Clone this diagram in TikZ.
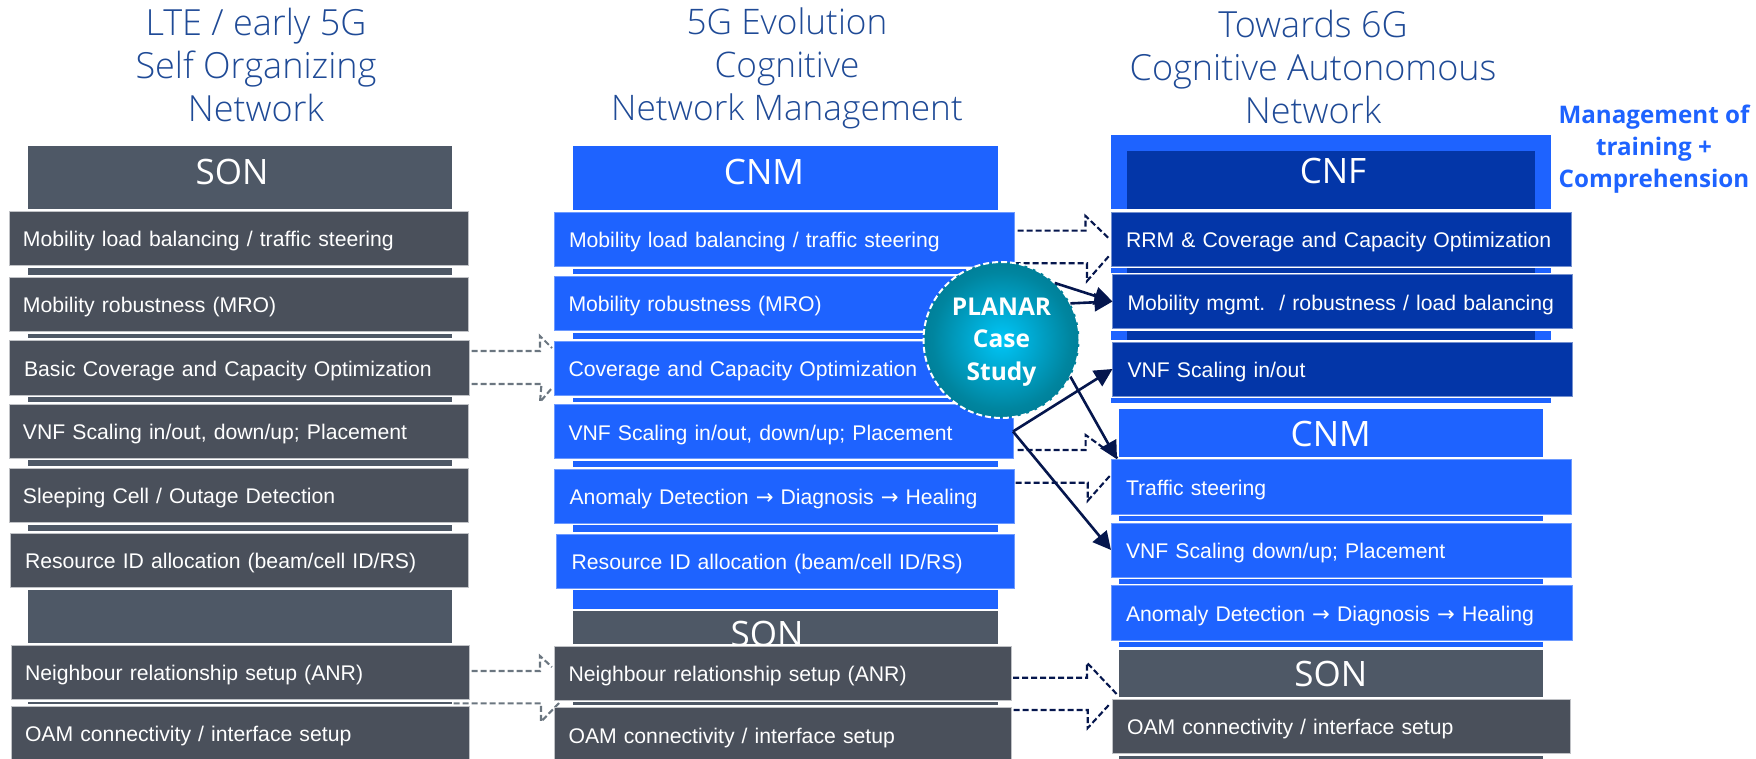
\documentclass[tikz,border=0pt]{standalone}
\usepackage{fontspec}
\setmainfont{Liberation Sans}
\newfontfamily\headfont{Open Sans}
\newfontfamily\lighthead{Open Sans Light}
\newfontfamily\arrowfont{DejaVu Sans}
\usetikzlibrary{arrows.meta}
\definecolor{nblue}{HTML}{1E63FF}
\definecolor{ndark}{HTML}{0336A8}
\definecolor{ngrayA}{HTML}{4E5866}
\definecolor{ngrayB}{HTML}{4A505B}
\definecolor{ntitle}{HTML}{1F4A96}
\definecolor{nnavy}{HTML}{05164D}
\definecolor{ndash}{HTML}{6B7680}
\definecolor{ballA}{HTML}{00C6F7}
\definecolor{ballB}{HTML}{00A8D0}
\definecolor{ballC}{HTML}{00859F}
\definecolor{ballD}{HTML}{006E86}
\definecolor{ballE}{HTML}{005D72}
\pgfdeclareradialshading{planarshade}{\pgfpoint{0bp}{0bp}}{color(0bp)=(ballA); color(10bp)=(ballB); color(22bp)=(ballC); color(35bp)=(ballD); color(50bp)=(ballE)}
\newcommand\rar{{\arrowfont →}}
\tikzset{
  itembase/.style={rectangle,outer sep=0pt,text=white,align=left,text height=21.2pt,text depth=4pt,
    font=\fontsize{21.2}{24}\selectfont},
  grayitem/.style={itembase,fill=ngrayB,draw=ngrayB!35!white,line width=.8pt},
  blueitem/.style={itembase,fill=nblue,draw=nblue!65!white,line width=.8pt},
  darkitem/.style={itembase,fill=ndark,draw=ndark!55!white,line width=.8pt},
  grayblock/.style={fill=ngrayA},
  blueblock/.style={fill=nblue},
  darkblock/.style={fill=ndark},
  headtext/.style={text=white,font=\headfont\fontsize{35}{40}\selectfont,inner sep=0pt},
  titletext/.style={text=ntitle,font=\lighthead\fontsize{36}{43}\selectfont,align=center,inner sep=0pt},
  graydash/.style={draw=ndash,line width=2.1pt,dash pattern=on 6pt off 3pt},
  navydash/.style={draw=nnavy,line width=2.1pt,dash pattern=on 6pt off 3pt},
  navyarrow/.style={draw=nnavy,line width=2.6pt,-{Triangle[length=18pt,width=18pt]}},
}
\newcommand\ibox[8]{%
  \pgfmathsetmacro\wid{#4-#2-2*#7}%
  \pgfmathsetmacro\hei{#5-#3}%
  \node[#6,anchor=north west,inner xsep=#7pt,inner ysep=0pt,text width=\wid pt,minimum height=\hei pt] (#1) at (#2,#3) {#8};}
\newcommand\bbox[6]{%
  \pgfmathsetmacro\wid{#4-#2}%
  \pgfmathsetmacro\hei{#5-#3}%
  \node[#6,anchor=north west,inner sep=0pt,outer sep=0pt,minimum width=\wid pt,minimum height=\hei pt] (#1) at (#2,#3) {};}
\begin{document}
\begin{tikzpicture}[x=1pt,y=-1pt]
\useasboundingbox (0,0) rectangle (1756,759);
\clip (0,0) rectangle (1756,759);
% titles
\node[titletext] (t1) at (256,65.5) {LTE / early 5G\\Self Organizing\\Network};
\node[titletext,font=\lighthead\fontsize{35.2}{43}\selectfont] (t2) at (787,68) {5G Evolution\\Cognitive\\Network Management};
\node[titletext] (t3) at (1313,67.5) {Towards 6G\\Cognitive Autonomous\\Network};
\node[text=nblue,font=\headfont\bfseries\fontsize{24.2}{32}\selectfont,align=center,inner sep=0pt] (mgmt) at (1654,149) {Management of\\training +\\Comprehension};
% column 1
\bbox{a0}{28}{146}{452}{209}{grayblock}
\node[headtext] (a0t) at (232,172) {SON};
\bbox{ab1}{28}{268}{452}{275}{grayblock}
\bbox{ab2}{28}{334}{452}{338}{grayblock}
\bbox{ab3}{28}{397}{452}{402}{grayblock}
\bbox{ab4}{28}{460}{452}{466}{grayblock}
\bbox{ab5}{28}{525}{452}{531}{grayblock}
\bbox{ab6}{28}{590}{452}{643}{grayblock}
\bbox{ab7}{28}{702}{452}{704}{grayblock}
\ibox{a1}{9}{211}{468}{265.6}{grayitem}{14}{Mobility load balancing / traffic steering}
\ibox{a2}{9}{277}{468}{331.7}{grayitem}{14}{Mobility robustness (MRO)}
\ibox{a3}{9.6}{340}{469}{395}{grayitem}{14.4}{Basic Coverage and Capacity Optimization}
\ibox{a4}{9}{404}{468}{458}{grayitem}{14}{VNF Scaling in/out, down/up; Placement}
\ibox{a5}{9}{468}{468}{522}{grayitem}{14}{Sleeping Cell / Outage Detection}
\ibox{a6}{10.3}{533}{468}{587}{grayitem}{14.7}{Resource ID allocation (beam/cell ID/RS)}
\ibox{a7}{11}{645}{469}{699}{grayitem}{14}{Neighbour relationship setup (ANR)}
\ibox{a8}{11}{706}{469}{775}{grayitem}{14}{\raisebox{8pt}{OAM connectivity / interface setup}}
% dashed block arrows col 1 to col 2
\draw[graydash] ([shift={(2.5,-16.5)}]a3.east) -- ++(68.5,0) -- ++(0,-15) -- ++(12,12);
\draw[graydash] ([shift={(2.5,16.5)}]a3.east) -- ++(70,0) -- ++(-1.5,18) -- ++(12,-14);
\draw[graydash] ([shift={(2.5,-1)}]a7.east) -- ++(68.5,0) -- ++(0,-15) -- ++(12,11);
\draw[graydash] ([shift={(-15.5,31.3)}]a7.east) -- ++(87.5,0) -- ++(0,18.4) -- ++(18,-18.7);
% column 2
\bbox{b0}{573}{146}{998}{210}{blueblock}
\node[headtext] (b0t) at (764,172) {CNM};
\bbox{bb1}{573}{268.7}{998}{274}{blueblock}
\bbox{bb2}{573}{333}{998}{338.7}{blueblock}
\bbox{bb3}{573}{397.7}{998}{402}{blueblock}
\bbox{bb4}{573}{461}{998}{466.7}{blueblock}
\bbox{bb5}{573}{525}{998}{531.7}{blueblock}
\bbox{bb6}{573}{590}{998}{609}{blueblock}
\bbox{bb7}{573}{611}{998}{643.7}{grayblock}
\node[headtext] (b7t) at (767,633.5) {SON};
\bbox{bb8}{573}{702}{998}{705}{grayblock}
\ibox{b1}{554.6}{212}{1014.5}{266}{blueitem}{14.4}{Mobility load balancing / traffic steering}
\ibox{b2}{554}{276}{1014}{330.7}{blueitem}{14.5}{Mobility robustness (MRO)}
\ibox{b3}{554}{341}{1014}{395.7}{blueitem}{14.5}{Coverage and Capacity Optimization}
\ibox{b4}{554}{404.3}{1013}{458.7}{blueitem}{14.5}{VNF Scaling in/out, down/up; Placement}
\ibox{b5}{554.6}{469}{1014.5}{523}{blueitem}{15}{Anomaly Detection \rar{} Diagnosis \rar{} Healing}
\ibox{b6}{556}{534}{1014}{588}{blueitem}{15.6}{Resource ID allocation (beam/cell ID/RS)}
\ibox{b7}{554}{646}{1011}{700}{grayitem}{14.5}{Neighbour relationship setup (ANR)}
\ibox{b8}{554}{707}{1011}{775}{grayitem}{14.5}{\raisebox{6pt}{OAM connectivity / interface setup}}
% dashed block arrows col 2 to col 3
\draw[navydash] ([shift={(3,-8.3)}]b1.east) -- ++(68,0) -- ++(0,-14.7) -- ++(24,23);
\draw[navydash] ([shift={(0,24.3)}]b1.east) -- ++(72.5,0) -- ++(0,17.7) -- ++(22,-25);
\draw[navydash] ([shift={(4.6,18.5)}]b4.east) -- ++(68,0) -- ++(0,-15) -- ++(32,23);
\draw[navydash] ([shift={(1.2,-13.3)}]b5.east) -- ++(72,0) -- ++(0,18) -- ++(22,-24.7);
\draw[navydash] ([shift={(2,4.7)}]b7.east) -- ++(74,0) -- ++(0,-15) -- ++(31.5,33.3);
\draw[navydash] ([shift={(2.7,-31)}]b8.east) -- ++(74,0) -- ++(0,18) -- ++(23,-25);
% column 3
\bbox{c0o}{1111}{135}{1551}{209}{blueblock}
\bbox{c0i}{1127}{151}{1535}{209}{darkblock}
\node[headtext] (c0t) at (1333,171) {CNF};
\bbox{cb1o}{1111}{268}{1551}{272.7}{blueblock}
\bbox{cb1i}{1127}{268}{1535}{272.7}{darkblock}
\bbox{cb2o}{1111}{330.7}{1551}{340}{blueblock}
\bbox{cb2i}{1127}{330.7}{1535}{340}{darkblock}
\bbox{cb3}{1111}{398}{1551}{403}{blueblock}
\bbox{cn0}{1119}{409}{1543}{457}{blueblock}
\node[headtext] (cn0t) at (1330.7,434) {CNM};
\bbox{cb4}{1119}{516}{1543}{520.7}{blueblock}
\bbox{cb5}{1119}{579}{1543}{583.7}{blueblock}
\bbox{cb6}{1119}{642}{1543}{647}{blueblock}
\bbox{cs0}{1119}{650}{1543}{696.7}{grayblock}
\node[headtext] (cs0t) at (1330.7,674) {SON};
\bbox{cb7}{1119}{755.7}{1543}{765}{grayblock}
\ibox{c1}{1111}{212}{1571}{266}{darkitem}{15}{RRM \& Coverage and Capacity Optimization}
\ibox{c2}{1112.5}{274.3}{1572.6}{328.7}{darkitem}{15}{Mobility mgmt.\ \ / robustness / load balancing}
\ibox{c3}{1112.5}{342}{1572.6}{396}{darkitem}{15}{VNF Scaling in/out}
\ibox{c4}{1111}{459.3}{1571}{514}{blueitem}{15}{Traffic steering}
\ibox{c5}{1111}{523}{1571}{577}{blueitem}{15}{VNF Scaling down/up; Placement}
\ibox{c6}{1111}{585.7}{1572.7}{640}{blueitem}{15}{Anomaly Detection \rar{} Diagnosis \rar{} Healing}
\ibox{c7}{1112}{699}{1570}{753.3}{grayitem}{15}{OAM connectivity / interface setup}
% PLANAR circle
\node[circle,minimum size=156pt,inner sep=0pt,outer sep=0pt,shading=planarshade,draw=white,line width=2pt,dash pattern=on 6pt off 3pt] (planar) at (1001.5,340) {};
\node[align=center,text=white,font=\headfont\bfseries\fontsize{24.5}{32.5}\selectfont,inner sep=0pt] (planart) at (1001.5,342) {PLANAR\\Case\\Study};
% solid arrows
\draw[navyarrow] (planar.47) -- (c2.west);
\draw[navyarrow] (planar.28) -- (c2.west);
\draw[navyarrow] (planar.-28) -- ([xshift=6pt]c4.north west);
\draw[navyarrow] (b4.east) -- (c3.west);
\draw[navyarrow] (b4.east) -- (c5.west);
\end{tikzpicture}
\end{document}
